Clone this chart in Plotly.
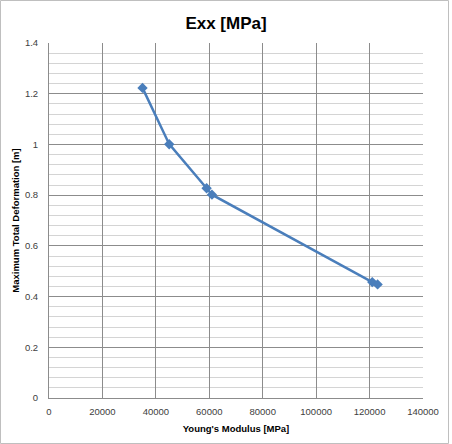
import plotly.graph_objects as go

youngs_modulus = [35000, 45000, 59000, 61000, 121000, 123000]
max_deformation = [1.223, 1.001, 0.827, 0.802, 0.457, 0.448]

W, H = 452, 444
ml, mr, mt, mb = 49, 29, 43, 46
pw, ph = W - ml - mr, H - mt - mb

fig = go.Figure()
fig.add_trace(go.Scatter(
    x=youngs_modulus, y=max_deformation, mode="lines+markers",
    line=dict(color="#4A7EBB", width=2.5),
    marker=dict(symbol="diamond", size=8, color="#4A7EBB"),
    showlegend=False,
))

font = "Liberation Sans, Arial, sans-serif"
fig.update_layout(
    width=W, height=H,
    margin=dict(l=ml, r=mr, t=mt, b=mb),
    paper_bgcolor="white", plot_bgcolor="white",
    title=dict(text="<b>Exx [MPa]</b>", x=0.5, xanchor="center", y=1 - 23 / H, yanchor="middle",
               font=dict(family=font, size=17, color="#000000")),
    font=dict(family=font, size=9.5, color="#404040"),
    xaxis=dict(range=[0, 140000], dtick=20000, tickformat="d",
               showgrid=True, gridcolor="#8c8c8c", gridwidth=1,
               showline=True, linecolor="#8c8c8c", linewidth=1,
               zeroline=False, ticks="", ticklabelstandoff=5,
               title=dict(text="<b>Young's Modulus [MPa]</b>", standoff=8,
                          font=dict(family=font, size=9.5, color="#000000"))),
    yaxis=dict(range=[0, 1.4], dtick=0.2,
               showgrid=True, gridcolor="#8c8c8c", gridwidth=1,
               minor=dict(dtick=0.04, showgrid=True, gridcolor="#d4d4d4", gridwidth=1),
               showline=True, linecolor="#8c8c8c", linewidth=1,
               zeroline=False, ticks="", ticklabelstandoff=8,
               title=dict(text="<b>Maximum Total Deformation [m]</b>", standoff=3,
                          font=dict(family=font, size=9.5, color="#000000"))),
)

fig.add_shape(type="rect", xref="paper", yref="paper",
              x0=(0.5 - ml) / pw, x1=(W - 3.5 - ml) / pw,
              y0=-(mb - 0.5) / ph, y1=1 + (mt - 0.5) / ph,
              line=dict(color="#bfbfbf", width=1), layer="below")

fig.write_html("out.html")
